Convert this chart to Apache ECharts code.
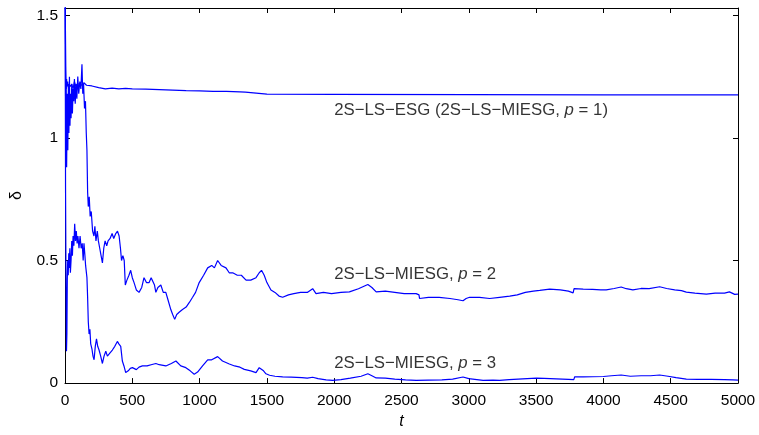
<!DOCTYPE html>
<html>
<head>
<meta charset="utf-8">
<script src="https://cdn.jsdelivr.net/npm/echarts@6/dist/echarts.min.js"></script>
<style>
html,body{margin:0;padding:0;background:#fff;}
#chart{width:759px;height:435px;}
</style>
</head>
<body>
<div id="chart"></div>
<script>
// ---- data (t, delta) ----
const seriesP1 = [[0,1.9],[3,1.45],[6,1.28],[9,1.2],[12,1.24],[15,1.21],[20,1.23],[25,1.2],[30,1.22],[40,1.21],[50,1.22],[60,1.2],[70,1.23],[80,1.21],[90,1.22],[100,1.215],[110,1.22],[125,1.215],[140,1.225],[160,1.215],[200,1.212],[250,1.205],[300,1.2],[350,1.203],[400,1.2],[450,1.202],[500,1.2],[600,1.199],[700,1.197],[800,1.195],[900,1.193],[1000,1.192],[1100,1.19],[1200,1.19],[1300,1.188],[1340,1.187],[1345,1.179],[1500,1.179],[2000,1.178],[3000,1.177],[4000,1.176],[5000,1.176]];

const seriesP2 = [[0,1.9],[3,1.32],[6,0.95],[9,1.22],[12,0.88],[15,1.05],[18,1.18],[21,0.95],[25,1.2],[29,1.02],[33,1.25],[37,1.05],[41,1.18],[45,1.08],[50,1.22],[55,1.1],[60,1.2],[65,1.15],[70,1.24],[76,1.14],[82,1.22],[88,1.16],[95,1.25],[102,1.18],[110,1.23],[118,1.2],[126,1.3],[132,1.18],[138,1.22],[145,1.12],[152,1.15],[158,1.02],[163,0.95],[168,0.78],[173,0.72],[180,0.76],[187,0.68],[195,0.7],[205,0.62],[215,0.6],[222,0.64],[230,0.58],[240,0.62],[248,0.58],[258,0.55],[268,0.52],[278,0.49],[288,0.55],[298,0.58],[310,0.56],[320,0.58],[335,0.59],[350,0.61],[362,0.59],[377,0.61],[390,0.62],[402,0.6],[412,0.55],[420,0.5],[430,0.52],[440,0.5],[448,0.4],[460,0.42],[475,0.44],[488,0.46],[500,0.43],[513,0.41],[530,0.38],[550,0.37],[570,0.39],[587,0.43],[605,0.41],[625,0.41],[640,0.43],[652,0.43],[665,0.4],[675,0.37],[690,0.39],[712,0.4],[730,0.37],[749,0.37],[765,0.34],[786,0.3],[800,0.28],[815,0.26],[830,0.28],[850,0.29],[873,0.3],[900,0.31],[925,0.33],[948,0.35],[970,0.37],[997,0.41],[1030,0.44],[1060,0.47],[1090,0.48],[1110,0.47],[1134,0.5],[1160,0.48],[1196,0.47],[1220,0.45],[1246,0.45],[1280,0.44],[1310,0.44],[1345,0.42],[1380,0.42],[1419,0.43],[1443,0.45],[1460,0.46],[1480,0.44],[1500,0.41],[1530,0.38],[1560,0.37],[1590,0.355],[1617,0.35],[1660,0.36],[1700,0.365],[1750,0.37],[1800,0.37],[1840,0.385],[1865,0.365],[1920,0.37],[1980,0.365],[2050,0.37],[2113,0.372],[2180,0.385],[2250,0.402],[2280,0.39],[2312,0.372],[2380,0.375],[2450,0.37],[2520,0.365],[2609,0.365],[2630,0.36],[2634,0.345],[2700,0.35],[2780,0.35],[2860,0.345],[2920,0.34],[2957,0.336],[2980,0.345],[3006,0.35],[3080,0.35],[3155,0.345],[3229,0.35],[3304,0.355],[3360,0.36],[3420,0.37],[3480,0.375],[3527,0.378],[3601,0.383],[3680,0.38],[3740,0.375],[3775,0.368],[3782,0.385],[3850,0.383],[3920,0.382],[3980,0.38],[4021,0.38],[4080,0.386],[4132,0.392],[4170,0.385],[4219,0.38],[4280,0.386],[4340,0.385],[4418,0.393],[4470,0.386],[4530,0.38],[4580,0.377],[4616,0.371],[4680,0.367],[4765,0.363],[4830,0.367],[4900,0.367],[4936,0.372],[4960,0.366],[4975,0.362],[5000,0.363]];

const seriesP3 = [[0,1.9],[4,0.8],[8,0.35],[11,0.13],[14,0.2],[17,0.42],[20,0.5],[24,0.44],[28,0.53],[32,0.47],[36,0.55],[40,0.45],[45,0.5],[50,0.58],[55,0.52],[60,0.6],[66,0.56],[72,0.65],[78,0.58],[84,0.62],[90,0.57],[96,0.6],[104,0.55],[112,0.6],[120,0.55],[128,0.57],[135,0.5],[141,0.57],[148,0.52],[153,0.48],[159,0.48],[163,0.43],[168,0.35],[173,0.25],[179,0.2],[185,0.22],[191,0.16],[200,0.14],[208,0.11],[216,0.095],[225,0.15],[234,0.18],[243,0.15],[253,0.135],[265,0.11],[278,0.08],[290,0.11],[303,0.13],[315,0.11],[330,0.12],[352,0.135],[370,0.15],[389,0.17],[400,0.16],[414,0.15],[420,0.12],[426,0.09],[438,0.07],[451,0.043],[470,0.05],[485,0.06],[501,0.063],[530,0.055],[550,0.065],[575,0.07],[610,0.07],[640,0.075],[675,0.08],[700,0.075],[749,0.07],[790,0.08],[824,0.09],[860,0.07],[898,0.063],[930,0.05],[960,0.036],[985,0.045],[1022,0.07],[1060,0.095],[1090,0.095],[1134,0.108],[1170,0.09],[1221,0.078],[1260,0.07],[1300,0.065],[1332,0.056],[1380,0.05],[1419,0.043],[1443,0.063],[1456,0.062],[1475,0.05],[1493,0.038],[1520,0.032],[1560,0.028],[1617,0.025],[1680,0.024],[1760,0.022],[1800,0.02],[1840,0.024],[1880,0.018],[1940,0.013],[1989,0.011],[2050,0.014],[2120,0.02],[2200,0.028],[2250,0.038],[2280,0.03],[2312,0.021],[2380,0.02],[2450,0.016],[2530,0.013],[2609,0.011],[2700,0.012],[2800,0.013],[2880,0.016],[2957,0.025],[3000,0.018],[3060,0.014],[3106,0.011],[3180,0.012],[3229,0.011],[3300,0.014],[3400,0.017],[3502,0.02],[3560,0.019],[3650,0.017],[3740,0.015],[3780,0.014],[3787,0.026],[3850,0.025],[3920,0.026],[4000,0.027],[4060,0.03],[4132,0.033],[4200,0.028],[4280,0.03],[4350,0.03],[4418,0.033],[4480,0.028],[4540,0.022],[4616,0.016],[4700,0.015],[4800,0.015],[4900,0.014],[4963,0.013],[5000,0.012]];

// annotation labels: anchor (t, delta) and text pieces
const labelAnchors = [[2000, 1.112], [2000, 0.444], [2000, 0.08]];
const labelPrefix = ['2S\u2212LS\u2212ESG (2S\u2212LS\u2212MIESG, ', '2S\u2212LS\u2212MIESG, ', '2S\u2212LS\u2212MIESG, '];
const labelP = ['1', '2', '3'];
const labelSuffix = [')', '', ''];

const xMin = 0, xMax = 5000, xStep = 500;
const yMin = 0, yMax = 1.53, yStep = 0.5;

const FONT = '"Liberation Sans", Arial, Helvetica, sans-serif';
const BLUE = '#0000ff';
const TICK_FS = 15.5;
const ANN_FS = 16.8;

const chart = echarts.init(document.getElementById('chart'), null, {renderer: 'canvas'});

function axisCommon(show) {
  return {
    axisLine: {show: true, onZero: false, lineStyle: {color: '#000', width: 1}},
    axisTick: {show: true, inside: true, length: 5, lineStyle: {color: '#000', width: 1}},
    splitLine: {show: false},
    axisLabel: {show: show, color: '#000', fontFamily: FONT, fontSize: TICK_FS}
  };
}

const labelData = labelAnchors.map((a, i) => ({
  value: a,
  label: {
    formatter: '{a|' + labelPrefix[i] + '}{i|p}{a| = ' + labelP[i] + labelSuffix[i] + '}'
  }
}));

const option = {
  animation: false,
  backgroundColor: '#fff',
  grid: {left: 65, right: 21, top: 8, bottom: 49, containLabel: false},
  xAxis: [
    Object.assign(axisCommon(true), {
      type: 'value', min: xMin, max: xMax, interval: xStep, position: 'bottom',
      name: 't', nameLocation: 'middle', nameGap: 27,
      nameTextStyle: {fontFamily: FONT, fontSize: 16, fontStyle: 'italic', color: '#000'},
      axisLabel: {show: true, color: '#000', fontFamily: FONT, fontSize: TICK_FS, margin: 10,
        formatter: function (v) { return String(v); }}
    }),
    Object.assign(axisCommon(false), {
      type: 'value', min: xMin, max: xMax, interval: xStep, position: 'top'
    })
  ],
  yAxis: [
    Object.assign(axisCommon(true), {
      type: 'value', min: yMin, max: yMax, interval: yStep, position: 'left',
      name: '\u03b4', nameLocation: 'middle', nameGap: 40,
      nameTextStyle: {fontFamily: FONT, fontSize: 16, color: '#000'},
      axisLabel: {
        show: true, color: '#000', fontFamily: FONT, fontSize: TICK_FS, margin: 7,
        formatter: function (v) {
          const r = Math.round(v / yStep) * yStep;
          return Math.abs(r - v) < 1e-9 ? String(Math.round(v * 10) / 10) : '';
        }
      }
    }),
    Object.assign(axisCommon(false), {
      type: 'value', min: yMin, max: yMax, interval: yStep, position: 'right'
    })
  ],
  series: [
    {type: 'line', data: seriesP1, showSymbol: false, symbol: 'none', clip: true,
     lineStyle: {color: BLUE, width: 1.2}, z: 3},
    {type: 'line', data: seriesP2, showSymbol: false, symbol: 'none', clip: true,
     lineStyle: {color: BLUE, width: 1.2}, z: 3},
    {type: 'line', data: seriesP3, showSymbol: false, symbol: 'none', clip: true,
     lineStyle: {color: BLUE, width: 1.2}, z: 3},
    {type: 'scatter', data: labelData, symbolSize: 0, silent: true,
     label: {
       show: true, position: 'right', distance: 0, color: '#000',
       fontFamily: FONT, fontSize: ANN_FS,
       rich: {
         a: {fontFamily: FONT, fontSize: ANN_FS, color: '#000'},
         i: {fontFamily: FONT, fontSize: ANN_FS, color: '#000', fontStyle: 'italic'}
       }
     }, z: 5}
  ]
};

chart.setOption(option);
</script>
</body>
</html>
